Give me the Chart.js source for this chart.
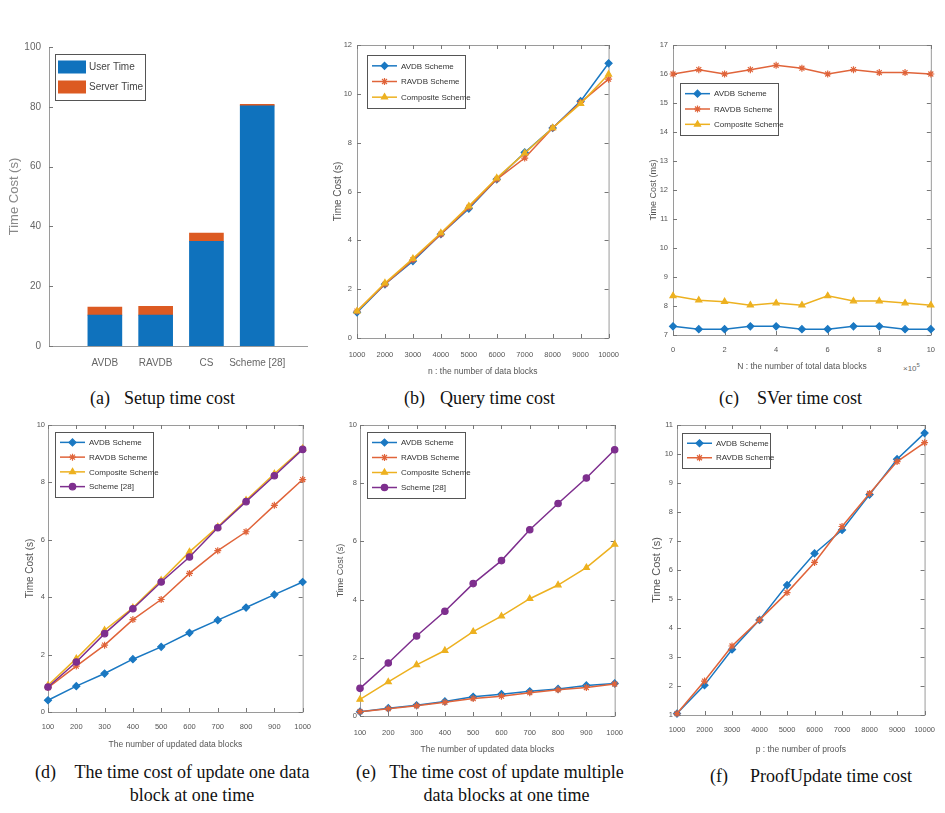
<!DOCTYPE html>
<html>
<head>
<meta charset="utf-8">
<script src="https://cdn.jsdelivr.net/npm/chart.js@4.4.1/dist/chart.umd.min.js"></script>
<style>
  body { margin: 0; background: #fff; width: 945px; height: 813px; overflow: hidden; position: relative; }
  canvas { position: absolute; }
  .cap { position: absolute; font-family: "Liberation Serif", serif; font-size: 18px; color: #111; white-space: nowrap; line-height: 23px; }
  .mult { position: absolute; font-family: "Liberation Sans", sans-serif; font-size: 8px; color: #666; }
</style>
</head>
<body>

<div class="cap" style="left:90px; top:387px;">(a)</div>
<div class="cap" style="left:124px; top:387px;">Setup time cost</div>
<div class="cap" style="left:404px; top:387px;">(b)</div>
<div class="cap" style="left:440px; top:387px;">Query time cost</div>
<div class="cap" style="left:719px; top:387px;">(c)</div>
<div class="cap" style="left:757px; top:387px;">SVer time cost</div>
<div class="cap" style="left:35px; top:761px;">(d)</div>
<div class="cap" style="left:72px; top:761px; width:240px; text-align:center;">The time cost of update one data<br>block at one time</div>
<div class="cap" style="left:356px; top:761px;">(e)</div>
<div class="cap" style="left:388px; top:761px; width:237px; text-align:center;">The time cost of update multiple<br>data blocks at one time</div>
<div class="cap" style="left:710px; top:765px;">(f)</div>
<div class="cap" style="left:750px; top:765px;">ProofUpdate time cost</div>
<div class="mult" style="left:903px; top:362px;">×10<sup style="font-size:6px">5</sup></div>

<script>
// (a) setup time
const setupCategories = ['AVDB', 'RAVDB', 'CS', 'Scheme [28]'];
const setupUserTime = [10.3, 10.3, 35, 80.3];
const setupServerTime = [2.7, 3.0, 2.8, 0.5];

// (b) query time
const queryBlocks = [1000, 2000, 3000, 4000, 5000, 6000, 7000, 8000, 9000, 10000];
const queryAVDB = [1.05, 2.2, 3.15, 4.25, 5.3, 6.5, 7.6, 8.6, 9.7, 11.25];
const queryRAVDB = [1.1, 2.2, 3.2, 4.25, 5.35, 6.5, 7.37, 8.6, 9.65, 10.6];
const queryComposite = [1.1, 2.25, 3.25, 4.3, 5.4, 6.55, 7.57, 8.6, 9.6, 10.8];

// (c) SVer time
const sverBlocks = [0, 1, 2, 3, 4, 5, 6, 7, 8, 9, 10];
const sverAVDB = [7.3, 7.2, 7.2, 7.3, 7.3, 7.2, 7.2, 7.3, 7.3, 7.2, 7.2];
const sverRAVDB = [16.0, 16.15, 16.0, 16.15, 16.3, 16.2, 16.0, 16.15, 16.05, 16.05, 16.0];
const sverComposite = [8.35, 8.2, 8.15, 8.03, 8.1, 8.03, 8.35, 8.17, 8.17, 8.1, 8.03];

// (d) update one data block
const updatedBlocks = [100, 200, 300, 400, 500, 600, 700, 800, 900, 1000];
const updOneAVDB = [0.41, 0.9, 1.34, 1.84, 2.27, 2.76, 3.2, 3.64, 4.09, 4.53];
const updOneRAVDB = [0.85, 1.6, 2.33, 3.22, 3.92, 4.83, 5.62, 6.28, 7.2, 8.1];
const updOneComposite = [0.93, 1.86, 2.85, 3.63, 4.59, 5.58, 6.45, 7.38, 8.3, 9.18];
const updOneScheme28 = [0.87, 1.74, 2.73, 3.6, 4.53, 5.4, 6.42, 7.33, 8.23, 9.15];

// (e) update multiple data blocks
const updMultiAVDB = [0.15, 0.27, 0.37, 0.5, 0.66, 0.75, 0.85, 0.93, 1.05, 1.12];
const updMultiRAVDB = [0.15, 0.25, 0.35, 0.47, 0.6, 0.68, 0.8, 0.9, 0.98, 1.1];
const updMultiComposite = [0.57, 1.17, 1.76, 2.25, 2.9, 3.43, 4.03, 4.5, 5.1, 5.9];
const updMultiScheme28 = [0.95, 1.82, 2.75, 3.6, 4.55, 5.34, 6.4, 7.3, 8.18, 9.15];

// (f) proof update
const proofCounts = [1000, 2000, 3000, 4000, 5000, 6000, 7000, 8000, 9000, 10000];
const proofAVDB = [1.05, 2.03, 3.26, 4.28, 5.48, 6.57, 7.38, 8.6, 9.82, 10.72];
const proofRAVDB = [1.05, 2.17, 3.38, 4.28, 5.22, 6.26, 7.5, 8.64, 9.74, 10.39];

const BLUE = '#1a78c2', ORANGE = '#e0643a', YELLOW = '#edb120', PURPLE = '#7e2f8e';
const TXT = '#555';

// matlab style box with inward ticks
const matlabAxes = {
  id: 'matlabAxes',
  beforeDatasetsDraw(chart, args, opts) {
    const ctx = chart.ctx, ca = chart.chartArea;
    const xs = chart.scales.x, ys = chart.scales.y;
    ctx.save();
    ctx.strokeStyle = '#9a9a9a';
    ctx.lineWidth = 1;
    ctx.beginPath();
    if (opts.box) {
      ctx.rect(ca.left + 0.5, ca.top + 0.5, ca.right - ca.left, ca.bottom - ca.top);
    } else {
      ctx.moveTo(ca.left + 0.5, ca.top);
      ctx.lineTo(ca.left + 0.5, ca.bottom + 0.5);
      ctx.lineTo(ca.right, ca.bottom + 0.5);
    }
    ctx.stroke();
    ctx.strokeStyle = '#777';
    ctx.beginPath();
    ys.ticks.forEach((t, i) => {
      const py = Math.round(ys.getPixelForTick(i)) + 0.5;
      ctx.moveTo(ca.left, py); ctx.lineTo(ca.left + 4, py);
      if (opts.box) { ctx.moveTo(ca.right, py); ctx.lineTo(ca.right - 4, py); }
    });
    if (opts.box) {
      xs.ticks.forEach((t, i) => {
        const px = Math.round(xs.getPixelForTick(i)) + 0.5;
        ctx.moveTo(px, ca.bottom); ctx.lineTo(px, ca.bottom - 4);
        ctx.moveTo(px, ca.top); ctx.lineTo(px, ca.top + 4);
      });
    }
    ctx.stroke();
    ctx.restore();
  }
};

// legend drawn inside the axes, with a frame
const boxLegend = {
  id: 'boxLegend',
  afterDatasetsDraw(chart, args, o) {
    if (!o || !o.w) return;
    const ctx = chart.ctx, ca = chart.chartArea;
    const x0 = Math.round(ca.left + o.dx), y0 = Math.round(ca.top + o.dy);
    const sets = chart.data.datasets;
    const rowH = (o.h - 2 * o.padY) / sets.length;
    ctx.save();
    ctx.fillStyle = '#fff';
    ctx.fillRect(x0, y0, o.w, o.h);
    ctx.strokeStyle = '#555';
    ctx.lineWidth = 1;
    ctx.strokeRect(x0 + 0.5, y0 + 0.5, o.w, o.h);
    sets.forEach((ds, i) => {
      const cy = y0 + o.padY + rowH * (i + 0.5);
      if (o.patch) {
        ctx.fillStyle = ds.backgroundColor;
        ctx.fillRect(x0 + 3, cy - 6.5, 28, 13);
      } else {
        ctx.strokeStyle = ds.borderColor;
        ctx.fillStyle = ds.backgroundColor;
        ctx.lineWidth = ds.borderWidth;
        ctx.beginPath();
        ctx.moveTo(x0 + 5, cy); ctx.lineTo(x0 + 30, cy);
        ctx.stroke();
        ctx.lineWidth = ds.pointBorderWidth;
        Chart.helpers.drawPoint(ctx, { pointStyle: ds.pointStyle, radius: ds.pointRadius, borderWidth: ds.pointBorderWidth, rotation: 0 }, x0 + 17.5, cy);
      }
      ctx.fillStyle = o.color || '#333';
      ctx.font = o.font;
      ctx.textBaseline = 'middle';
      ctx.fillText(ds.label, x0 + o.textX, cy + 0.5);
    });
    ctx.restore();
  }
};

function makeCanvas(rect, yW, xH, padT, padR) {
  const c = document.createElement('canvas');
  c.width = rect[2] - rect[0] + yW + padR;
  c.height = rect[3] - rect[1] + padT + xH;
  c.style.left = (rect[0] - yW) + 'px';
  c.style.top = (rect[1] - padT) + 'px';
  document.body.appendChild(c);
  return c;
}

function font(size) {
  return { family: '"Liberation Sans", Arial, sans-serif', size: size };
}

// (a) stacked bars
(function () {
  const rect = [49, 45, 313, 346], yW = 42, xH = 30, padT = 12, padR = 6;
  const canvas = makeCanvas(rect, yW, xH, padT, padR);
  new Chart(canvas, {
    type: 'bar',
    data: {
      datasets: [
        { label: 'User Time', data: setupCategories.map((c, i) => ({ x: i + 1, y: setupUserTime[i] })), backgroundColor: '#0f72bd', barThickness: 34 },
        { label: 'Server Time', data: setupCategories.map((c, i) => ({ x: i + 1, y: setupServerTime[i] })), backgroundColor: '#dc5a22', barThickness: 34 }
      ]
    },
    options: {
      responsive: false, animation: false, devicePixelRatio: 1,
      layout: { padding: { top: padT, right: padR, left: 0, bottom: 0 } },
      plugins: {
        legend: { display: false }, tooltip: { enabled: false },
        matlabAxes: { box: false },
        boxLegend: { dx: 6, dy: 7, w: 90, h: 46, padY: 3, patch: true, textX: 34, color: '#444', font: '10px "Liberation Sans", sans-serif' }
      },
      scales: {
        x: {
          type: 'linear', min: -0.1, max: 5, stacked: true, offset: false,
          grid: { display: false, drawTicks: false, offset: false }, border: { display: false },
          ticks: { stepSize: 1, includeBounds: false, autoSkip: false, maxRotation: 0, padding: 11, color: '#666', font: font(10),
                   callback: v => setupCategories[v - 1] || '' },
          afterFit: s => { s.height = xH; }
        },
        y: {
          min: 0, max: 100, stacked: true,
          grid: { display: false, drawTicks: false }, border: { display: false },
          ticks: { stepSize: 20, padding: 8, color: '#666', font: font(10) },
          title: { display: true, text: 'Time Cost (s)', color: '#888', font: font(13), padding: 0 },
          afterFit: s => { s.width = yW; }
        }
      }
    },
    plugins: [matlabAxes, boxLegend]
  });
})();

function lineChart(p) {
  const padT = 12;
  const canvas = makeCanvas(p.rect, p.yW, p.xH, padT, p.padR);
  const n = p.series.length;
  new Chart(canvas, {
    type: 'line',
    data: {
      datasets: p.series.map((s, i) => ({
        label: s.label,
        data: p.x.map((x, j) => ({ x: x, y: s.values[j] })),
        borderColor: s.color, backgroundColor: s.color,
        borderWidth: 1.5, pointStyle: s.marker, pointRadius: s.radius || 3.5,
        pointBorderWidth: 1.2, tension: 0, clip: 10, order: n - i
      }))
    },
    options: {
      responsive: false, animation: false, devicePixelRatio: 1,
      layout: { padding: { top: padT, right: p.padR, left: 0, bottom: 0 } },
      plugins: {
        legend: { display: false }, tooltip: { enabled: false },
        matlabAxes: { box: true },
        boxLegend: Object.assign({ padY: 3, textX: 34, font: '8px "Liberation Sans", sans-serif' }, p.legend)
      },
      scales: {
        x: {
          type: 'linear', min: p.xMin, max: p.xMax,
          grid: { display: false, drawTicks: false }, border: { display: false },
          ticks: { stepSize: p.xStep, autoSkip: false, maxRotation: 0, padding: p.xPad, color: TXT, font: font(7.5), callback: v => String(v) },
          title: { display: true, text: p.xTitle, color: TXT, font: font(8.5), padding: 0 },
          afterFit: s => { s.height = p.xH; }
        },
        y: {
          min: p.yMin, max: p.yMax,
          grid: { display: false, drawTicks: false }, border: { display: false },
          ticks: { stepSize: p.yStep, padding: p.yPad, color: TXT, font: font(7.5) },
          title: { display: true, text: p.yTitle, color: TXT, font: font(p.yTitleSize), padding: 0 },
          afterFit: s => { s.width = p.yW; }
        }
      }
    },
    plugins: [matlabAxes, boxLegend]
  });
}

// (b)
lineChart({
  rect: [357, 45, 623, 338], yW: 25, xH: 39, padR: 8,
  x: queryBlocks, xMin: 1000, xMax: 10000, xStep: 1000, xPad: 12,
  yMin: 0, yMax: 12, yStep: 2, yPad: 5,
  xTitle: 'n : the number of data blocks', yTitle: 'Time Cost (s)', yTitleSize: 10,
  legend: { dx: 10, dy: 10, w: 98, h: 53 },
  series: [
    { label: 'AVDB Scheme', values: queryAVDB, color: BLUE, marker: 'rectRot' },
    { label: 'RAVDB Scheme', values: queryRAVDB, color: ORANGE, marker: 'star' },
    { label: 'Composite Scheme', values: queryComposite, color: YELLOW, marker: 'triangle' }
  ]
});

// (c)
lineChart({
  rect: [673, 45, 943, 335], yW: 25, xH: 37, padR: 2,
  x: sverBlocks, xMin: 0, xMax: 10, xStep: 2, xPad: 10,
  yMin: 7, yMax: 17, yStep: 1, yPad: 5,
  xTitle: 'N : the number of total data blocks', yTitle: 'Time Cost (ms)', yTitleSize: 9,
  legend: { dx: 7, dy: 38, w: 98, h: 52 },
  series: [
    { label: 'AVDB Scheme', values: sverAVDB, color: BLUE, marker: 'rectRot' },
    { label: 'RAVDB Scheme', values: sverRAVDB, color: ORANGE, marker: 'star' },
    { label: 'Composite Scheme', values: sverComposite, color: YELLOW, marker: 'triangle' }
  ]
});

// (d)
lineChart({
  rect: [48, 425, 313, 712], yW: 24, xH: 38, padR: 8,
  x: updatedBlocks, xMin: 100, xMax: 1000, xStep: 100, xPad: 10,
  yMin: 0, yMax: 10, yStep: 2, yPad: 3,
  xTitle: 'The number of updated data blocks', yTitle: 'Time Cost (s)', yTitleSize: 10,
  legend: { dx: 7, dy: 7, w: 98, h: 65 },
  series: [
    { label: 'AVDB Scheme', values: updOneAVDB, color: BLUE, marker: 'rectRot' },
    { label: 'RAVDB Scheme', values: updOneRAVDB, color: ORANGE, marker: 'star' },
    { label: 'Composite Scheme', values: updOneComposite, color: YELLOW, marker: 'triangle' },
    { label: 'Scheme [28]', values: updOneScheme28, color: PURPLE, marker: 'circle', radius: 3.2 }
  ]
});

// (e)
lineChart({
  rect: [360, 425, 627, 716], yW: 25, xH: 39, padR: 8,
  x: updatedBlocks, xMin: 100, xMax: 1000, xStep: 100, xPad: 12,
  yMin: 0, yMax: 10, yStep: 2, yPad: 3,
  xTitle: 'The number of updated data blocks', yTitle: 'Time Cost (s)', yTitleSize: 9,
  legend: { dx: 7, dy: 7, w: 98, h: 66 },
  series: [
    { label: 'AVDB Scheme', values: updMultiAVDB, color: BLUE, marker: 'rectRot' },
    { label: 'RAVDB Scheme', values: updMultiRAVDB, color: ORANGE, marker: 'star' },
    { label: 'Composite Scheme', values: updMultiComposite, color: YELLOW, marker: 'triangle' },
    { label: 'Scheme [28]', values: updMultiScheme28, color: PURPLE, marker: 'circle', radius: 3.2 }
  ]
});

// (f)
lineChart({
  rect: [677, 425, 940, 715], yW: 27, xH: 40, padR: 5,
  x: proofCounts, xMin: 1000, xMax: 10000, xStep: 1000, xPad: 10,
  yMin: 1, yMax: 11, yStep: 1, yPad: 4,
  xTitle: 'p : the number of proofs', yTitle: 'Time Cost (s)', yTitleSize: 11,
  legend: { dx: 5, dy: 8, w: 88, h: 35 },
  series: [
    { label: 'AVDB Scheme', values: proofAVDB, color: BLUE, marker: 'rectRot' },
    { label: 'RAVDB Scheme', values: proofRAVDB, color: ORANGE, marker: 'star' }
  ]
});
</script>
</body>
</html>
